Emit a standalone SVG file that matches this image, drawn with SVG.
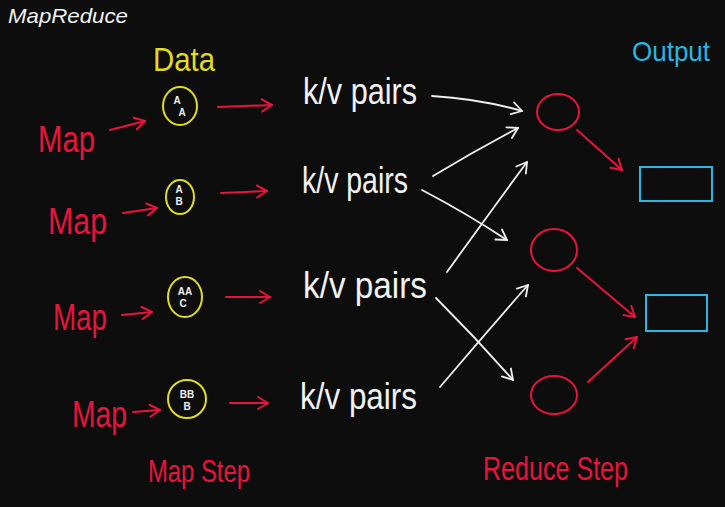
<svg xmlns="http://www.w3.org/2000/svg" width="725" height="507" viewBox="0 0 725 507">
<defs>
<style>
.hand{font-family:"Liberation Sans","DejaVu Sans",sans-serif;}
.red{fill:#e8143c;}
.wht{fill:#f2f2f2;}
.yel{fill:#e2dc1e;}
.blu{fill:#2bb6e4;}
.rs{fill:none;stroke:#e8143c;stroke-width:2;stroke-linecap:round;}
.ws{fill:none;stroke:#efefef;stroke-width:1.8;stroke-linecap:round;}
.ys{fill:none;stroke:#e2dc1e;stroke-width:2;}
.bs{fill:none;stroke:#2bb6e4;stroke-width:2;}
.in{font-family:"Liberation Sans",sans-serif;font-size:10px;font-weight:bold;fill:#f2f2f2;text-anchor:middle;}
</style>
<marker id="ar" viewBox="-12 -8 14 16" markerWidth="14" markerHeight="16" refX="0" refY="0" orient="auto" markerUnits="userSpaceOnUse">
<path d="M-10,-6 L0,0 L-10,6" fill="none" stroke="#e8143c" stroke-width="2" stroke-linecap="round" stroke-linejoin="round"/>
</marker>
<marker id="aw" viewBox="-12 -8 14 16" markerWidth="14" markerHeight="16" refX="0" refY="0" orient="auto" markerUnits="userSpaceOnUse">
<path d="M-10,-6 L0,0 L-10,6" fill="none" stroke="#efefef" stroke-width="1.8" stroke-linecap="round" stroke-linejoin="round"/>
</marker>
</defs>
<rect width="725" height="507" fill="#0d0d0d"/>

<g id="title"><text x="8" y="23" font-family="Liberation Sans,sans-serif" font-style="italic" font-size="21" fill="#f2f2f2" textLength="120" lengthAdjust="spacingAndGlyphs">MapReduce</text></g>
<g id="data-label"><text class="hand yel" x="153" y="71" font-size="34" textLength="62" lengthAdjust="spacingAndGlyphs">Data</text></g>
<g id="output-label"><text class="hand blu" x="632" y="61" font-size="28" textLength="78" lengthAdjust="spacingAndGlyphs">Output</text></g>

<g id="map1"><text class="hand red" x="38" y="152" font-size="36" textLength="57" lengthAdjust="spacingAndGlyphs">Map</text></g>
<g id="map2"><text class="hand red" x="48" y="234" font-size="36" textLength="59" lengthAdjust="spacingAndGlyphs">Map</text></g>
<g id="map3"><text class="hand red" x="53" y="330" font-size="36" textLength="54" lengthAdjust="spacingAndGlyphs">Map</text></g>
<g id="map4"><text class="hand red" x="72" y="427" font-size="36" textLength="55" lengthAdjust="spacingAndGlyphs">Map</text></g>

<g id="data1"><ellipse class="ys" cx="180" cy="106" rx="17" ry="19"/><text class="in" x="177" y="104">A</text><text class="in" x="182" y="116">A</text></g>
<g id="data2"><ellipse class="ys" cx="180" cy="197" rx="14" ry="17"/><text class="in" x="179" y="193">A</text><text class="in" x="179" y="205">B</text></g>
<g id="data3"><ellipse class="ys" cx="185" cy="297" rx="17" ry="20"/><text class="in" x="185" y="295">AA</text><text class="in" x="183" y="307">C</text></g>
<g id="data4"><ellipse class="ys" cx="187" cy="399" rx="19" ry="19"/><text class="in" x="187" y="398">BB</text><text class="in" x="187" y="410">B</text></g>

<g id="kv1"><text class="hand wht" x="303" y="104" font-size="36" textLength="114" lengthAdjust="spacingAndGlyphs">k/v pairs</text></g>
<g id="kv2"><text class="hand wht" x="302" y="193" font-size="36" textLength="106" lengthAdjust="spacingAndGlyphs">k/v pairs</text></g>
<g id="kv3"><text class="hand wht" x="303" y="298" font-size="36" textLength="124" lengthAdjust="spacingAndGlyphs">k/v pairs</text></g>
<g id="kv4"><text class="hand wht" x="300" y="409" font-size="36" textLength="117" lengthAdjust="spacingAndGlyphs">k/v pairs</text></g>

<g id="reduce1"><ellipse fill="none" stroke="#e8143c" stroke-width="2" cx="558" cy="112" rx="21" ry="18"/></g>
<g id="reduce2"><ellipse fill="none" stroke="#e8143c" stroke-width="2" cx="554" cy="250" rx="23" ry="21"/></g>
<g id="reduce3"><ellipse fill="none" stroke="#e8143c" stroke-width="2" cx="554" cy="395" rx="23" ry="19"/></g>

<g id="out1"><rect class="bs" x="640" y="167" width="72" height="34"/></g>
<g id="out2"><rect class="bs" x="646" y="295" width="61" height="36"/></g>

<g id="map-step"><text class="hand red" x="148" y="482" font-size="32" textLength="102" lengthAdjust="spacingAndGlyphs">Map Step</text></g>
<g id="reduce-step"><text class="hand red" x="483" y="480" font-size="34" textLength="145" lengthAdjust="spacingAndGlyphs">Reduce Step</text></g>

<g id="connectors">
<path class="rs" d="M110,130 L145,121" marker-end="url(#ar)"/>
<path class="rs" d="M123,213 L157,208" marker-end="url(#ar)"/>
<path class="rs" d="M122,315 L152,312" marker-end="url(#ar)"/>
<path class="rs" d="M133,412 L160,410" marker-end="url(#ar)"/>
<path class="rs" d="M218,107 L272,105" marker-end="url(#ar)"/>
<path class="rs" d="M221,193 L267,191" marker-end="url(#ar)"/>
<path class="rs" d="M226,297 L270,297" marker-end="url(#ar)"/>
<path class="rs" d="M230,403 L268,403" marker-end="url(#ar)"/>
<path class="ws" d="M432,96 Q480,99 522,111" marker-end="url(#aw)"/>
<path class="ws" d="M433,176 Q476,150 518,128" marker-end="url(#aw)"/>
<path class="ws" d="M422,190 Q466,213 507,240" marker-end="url(#aw)"/>
<path class="ws" d="M447,272 Q488,215 527,162" marker-end="url(#aw)"/>
<path class="ws" d="M436,298 Q476,338 513,380" marker-end="url(#aw)"/>
<path class="ws" d="M440,387 Q484,335 528,285" marker-end="url(#aw)"/>
<path class="rs" d="M577,130 L622,170" marker-end="url(#ar)"/>
<path class="rs" d="M577,268 L635,317" marker-end="url(#ar)"/>
<path class="rs" d="M588,382 L637,337" marker-end="url(#ar)"/>
</g>
</svg>
